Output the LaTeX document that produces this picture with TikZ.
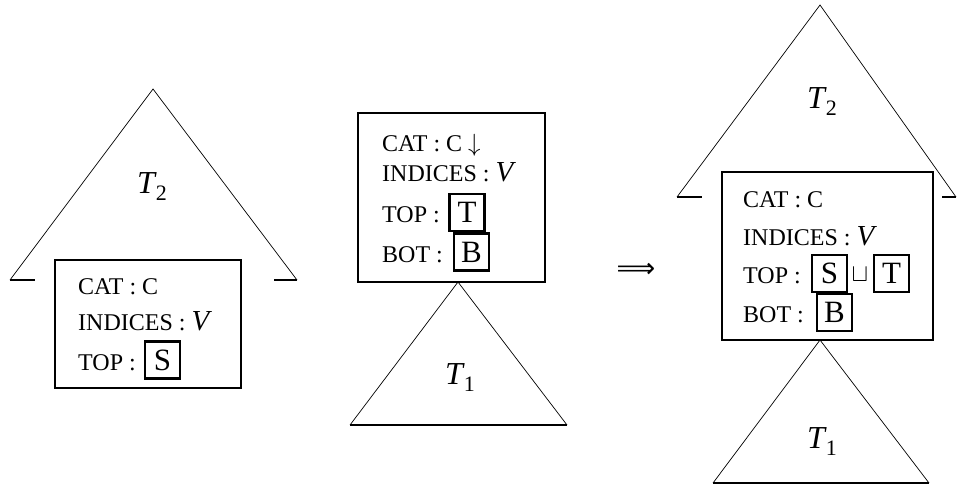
\documentclass[tikz,border=0pt]{standalone}
\usepackage{fontspec}
\setmainfont{Liberation Serif}
\newfontfamily\djv{DejaVu Sans}
\newcommand{\fsz}[1]{\fontsize{#1}{#1}\selectfont}
\begin{document}
\begin{tikzpicture}[x=1pt,y=-1pt,
  feat/.style={anchor=base west,inner sep=0pt,font=\fsz{24}},
  valbox/.style={draw,line width=2.1pt,inner sep=0pt,font=\fsz{31},minimum width=35pt,minimum height=37pt},
  fsbox/.style={draw,line width=1.4pt},
  tri/.style={line width=0.7pt},
  stub/.style={line width=1.8pt},
  tlabel/.style={inner sep=0pt,font=\fsz{32}}]
\useasboundingbox (0,0) rectangle (957,489);
\newcommand{\tsub}[1]{\textit{T}\kern-1pt\raisebox{-7pt}{\fsz{22}#1}}

% ---------- left ----------
\coordinate (LA) at (153,89);
\coordinate (LBL) at (10,280);
\coordinate (LBR) at (297,280);
\draw[tri] (LBL) -- (LA) -- (LBR);
\draw[stub] (LBL) -- (35,280);
\draw[stub] (274,280) -- (LBR);
\node[tlabel] (lt2) at (152,187) {\tsub{2}};
\draw[fsbox] (55,260) rectangle (241,388);
\node[feat] (l1) at (78,294) {CAT : C};
\node[feat] (l2) at (78,330) {INDICES : \fsz{29}\textit{V}};
\node[feat] (l3) at (78,370) {TOP :};
\node[valbox] (lS) at (162.5,360) {S};

% ---------- middle ----------
\draw[fsbox] (358,113) rectangle (545,282);
\node[feat] (m1) at (382,152) {CAT : C $\downarrow$};
\node[feat] (m2) at (382,182) {INDICES : \fsz{29}\textit{V}};
\node[feat] (m3) at (382,222) {TOP :};
\node[feat] (m4) at (382,262) {BOT :};
\node[valbox] (mT) at (467,212.5) {T};
\node[valbox] (mB) at (471.5,252) {B};
\coordinate (MA) at (458,282);
\coordinate (MBL) at (350,425);
\coordinate (MBR) at (567,425);
\draw[tri] (MBL) -- (MA) -- (MBR);
\draw[stub] (MBL) -- (MBR);
\node[tlabel] (mt1) at (460,378) {\tsub{1}};

% ---------- arrow ----------
\node[inner sep=0pt,font=\djv\fsz{27}] (arr) at (636,270) {⟹};

% ---------- right ----------
\coordinate (RA) at (820,5);
\coordinate (RBL) at (677,197);
\coordinate (RBR) at (956,197);
\draw[tri] (RBL) -- (RA) -- (RBR);
\draw[stub] (RBL) -- (702,197);
\draw[stub] (942,197) -- (RBR);
\node[tlabel] (rt2) at (822,102) {\tsub{2}};
\draw[fsbox] (722,172) rectangle (933,340);
\node[feat] (r1) at (743,207) {CAT : C};
\node[feat] (r2) at (743,245) {INDICES : \fsz{29}\textit{V}};
\node[feat] (r3) at (743,283) {TOP :};
\node[feat] (r4) at (743,322) {BOT :};
\node[valbox] (rS) at (829.5,273.5) {S};
\node[inner sep=0pt,font=\fsz{24}] (rj) at (860,275) {$\sqcup$};
\node[valbox] (rT) at (891.5,273.5) {T};
\node[valbox] (rB) at (834.5,312.5) {B};
\coordinate (RTA) at (820,340);
\coordinate (RTL) at (713,483);
\coordinate (RTR) at (929,483);
\draw[tri] (RTL) -- (RTA) -- (RTR);
\draw[stub] (RTL) -- (RTR);
\node[tlabel] (rt1) at (822,442) {\tsub{1}};
\end{tikzpicture}
\end{document}
